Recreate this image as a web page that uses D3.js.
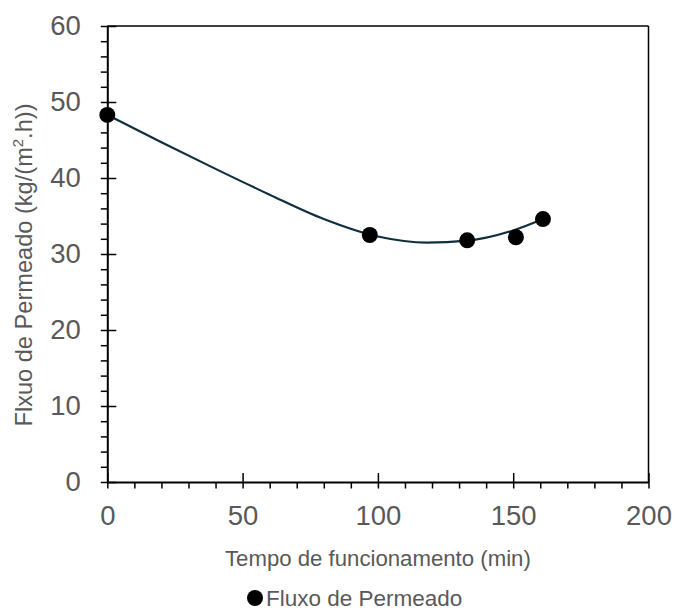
<!DOCTYPE html>
<html>
<head>
<meta charset="utf-8">
<script src="https://cdn.jsdelivr.net/npm/d3@7"></script>
<style>
  body { margin: 0; background: #fff; }
  svg { display: block; font-family: "Liberation Sans", Arial, sans-serif; }
</style>
</head>
<body>
<svg id="chart" width="676" height="613"></svg>
<script>
// ---- data ----
const timeMin = [0, 97, 133, 151, 161];
const fluxValues = [48.3, 32.5, 31.8, 32.2, 34.6];
// polynomial trendline
const trendX = [0, 20, 40, 60, 80, 100, 118, 133, 150, 161];
const trendY = [48.3, 44.7, 41.2, 37.8, 34.6, 32.3, 31.5, 31.75, 33.1, 34.6];
const xTicks = [0, 50, 100, 150, 200];
const yTicks = [0, 10, 20, 30, 40, 50, 60];
const xMinor = [10, 20, 30, 40, 60, 70, 80, 90, 110, 120, 130, 140, 160, 170, 180, 190];
const yMinor = [2, 4, 6, 8, 12, 14, 16, 18, 22, 24, 26, 28, 32, 34, 36, 38, 42, 44, 46, 48, 52, 54, 56, 58];
const xTitle = "Tempo de funcionamento (min)";
const yTitleMain = "Flxuo de Permeado (kg/(m";
const yTitleSup = "2";
const yTitleEnd = ".h))";
const legendLabel = "Fluxo de Permeado";

// ---- layout ----
const svg = d3.select("#chart");
const L = 107.3, R = 648.5, T = 26, B = 482;
const x = d3.scaleLinear().domain([0, 200]).range([L, R]);
const y = d3.scaleLinear().domain([0, 60]).range([B, T]);
const grey = "#595959";

// frame (top and right)
svg.append("line").attr("x1", L).attr("x2", R).attr("y1", T).attr("y2", T)
  .attr("stroke", "#000").attr("stroke-width", 1.5);
svg.append("line").attr("x1", R).attr("x2", R).attr("y1", T).attr("y2", B)
  .attr("stroke", "#000").attr("stroke-width", 1.5);

// minor ticks
svg.append("g").attr("transform", `translate(0,${B})`)
  .call(d3.axisBottom(x).tickValues(xMinor).tickSize(6.5).tickFormat(""))
  .call(g => g.select(".domain").remove())
  .call(g => g.selectAll("line").attr("stroke", "#000").attr("stroke-width", 1.5));
svg.append("g").attr("transform", `translate(${L},0)`)
  .call(d3.axisLeft(y).tickValues(yMinor).tickSize(6.5).tickFormat(""))
  .call(g => g.select(".domain").remove())
  .call(g => g.selectAll("line").attr("stroke", "#000").attr("stroke-width", 1.5));

// major axes
const xAxis = svg.append("g").attr("transform", `translate(0,${B})`)
  .call(d3.axisBottom(x).tickValues(xTicks).tickSizeInner(6.5).tickSizeOuter(0).tickPadding(17));
xAxis.selectAll(".tick").append("line").attr("y1", 0).attr("y2", -9);
const yAxis = svg.append("g").attr("transform", `translate(${L},0)`)
  .call(d3.axisLeft(y).tickValues(yTicks).tickSizeInner(6.5).tickSizeOuter(0).tickPadding(20));
yAxis.selectAll(".tick").append("line").attr("x1", 0).attr("x2", 9);
[xAxis, yAxis].forEach(a => {
  a.select(".domain").attr("stroke", "#000").attr("stroke-width", 2);
  a.selectAll(".tick line").attr("stroke", "#000").attr("stroke-width", 1.5);
  a.selectAll(".tick text").attr("fill", grey).attr("font-size", 27.5)
    .attr("font-family", "'Liberation Sans', Arial, sans-serif");
});

// trendline
const line = d3.line().x((d, i) => x(trendX[i])).y(d => y(d)).curve(d3.curveMonotoneX);
svg.append("path").datum(trendY).attr("d", line)
  .attr("fill", "none").attr("stroke", "#0f2f3f").attr("stroke-width", 2.2);

// points
svg.append("g").selectAll("circle").data(fluxValues).join("circle")
  .attr("cx", (d, i) => x(timeMin[i])).attr("cy", d => y(d)).attr("r", 8).attr("fill", "#000");

// axis titles
svg.append("text").attr("x", (L + R) / 2).attr("y", 566).attr("text-anchor", "middle")
  .attr("font-size", 22.2).attr("fill", grey).text(xTitle);
const yt = svg.append("text").attr("transform", `translate(32,265) rotate(-90)`)
  .attr("text-anchor", "middle").attr("font-size", 23.6).attr("fill", grey);
yt.append("tspan").text(yTitleMain);
yt.append("tspan").attr("font-size", 15).attr("dy", -9).text(yTitleSup);
yt.append("tspan").attr("dy", 9).text(yTitleEnd);

// legend
svg.append("circle").attr("cx", 255).attr("cy", 598).attr("r", 8).attr("fill", "#000");
svg.append("text").attr("x", 266).attr("y", 606).attr("font-size", 22.5).attr("fill", grey).text(legendLabel);
</script>
</body>
</html>
